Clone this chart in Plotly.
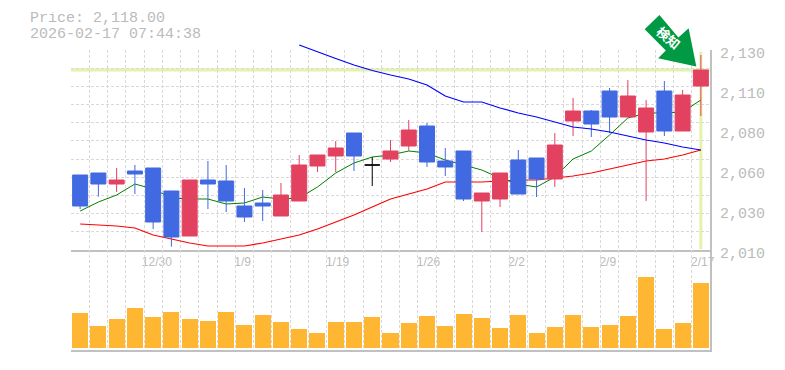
import plotly.graph_objects as go

# --- data ---
idx = list(range(35))
opens = [2055, 2056.2, 2049.6, 2057.4, 2059.2, 2045.4, 2018.4, 2052, 2051.4, 2036.4, 2038.2, 2030.4,
         2039.4, 2060.4, 2066.4, 2080.2, 2061, 2064.6, 2072.4, 2084.4, 2063.4, 2069.4, 2039.4, 2040.6,
         2064, 2065.2, 2052.6, 2087.4, 2093.4, 2105.4, 2089.8, 2080.8, 2105.4, 2081.4, 2108.4]
closes = [2036.4, 2049.6, 2052, 2055.6, 2026.8, 2017.8, 2052, 2049.6, 2039.4, 2029.8, 2036.4, 2043,
          2061, 2067, 2071.2, 2066.4, 2061, 2069.4, 2082, 2062.8, 2059.8, 2040.6, 2044.2, 2056.2,
          2043.6, 2052.6, 2073, 2093.4, 2085.6, 2089.8, 2102.4, 2095.2, 2081.4, 2103, 2118]
highs = [2055, 2056.2, 2059.2, 2061, 2059.2, 2045.4, 2052, 2063.4, 2061, 2047.2, 2046, 2050.2,
         2067, 2067, 2075.4, 2080.2, 2065.8, 2076, 2088, 2086.2, 2071.2, 2069.4, 2044.2, 2056.2,
         2070, 2065.2, 2080.2, 2101.2, 2094, 2107.2, 2112, 2100, 2111.4, 2106, 2127]
lows = [2034.6, 2042, 2044.8, 2043.6, 2022.6, 2012, 2018.4, 2034.6, 2032.8, 2026.8, 2027.4, 2030.4,
        2039.4, 2056.8, 2056.8, 2057.4, 2048.4, 2062.8, 2069.4, 2059.8, 2054.4, 2039.4, 2020.8, 2035.8,
        2043.6, 2041.8, 2047.8, 2078.4, 2077.8, 2080.2, 2089.8, 2039.4, 2078.4, 2081.4, 2090.4]
ma_short = [2033.4, 2038.8, 2043, 2049.6, 2046.6, 2041.2, 2040.6, 2040.6, 2037.6, 2038.2, 2041.8, 2040.6,
            2041.2, 2047.8, 2056.2, 2062.2, 2065.8, 2067, 2069.4, 2068.2, 2064, 2061, 2058, 2053.2,
            2049.6, 2047.8, 2053.8, 2064.6, 2069.4, 2079, 2089.2, 2092.2, 2092.2, 2092.8, 2100]
ma_mid = [2025.6, 2025, 2024.4, 2023.2, 2019, 2016.6, 2014.2, 2012.4, 2012.4, 2012.4, 2014.2, 2016.6,
          2019, 2022.6, 2026.8, 2031, 2035.8, 2040.6, 2043.6, 2046.6, 2050.8, 2050.8, 2050.8, 2051.4,
          2052, 2052, 2053.2, 2054.4, 2056.2, 2058.6, 2061, 2063.4, 2064.6, 2067, 2070]
ma_long = [None] * 12 + [2133, 2128.8, 2124.9, 2121, 2117.7, 2115, 2112.6, 2109, 2102.4, 2098.8, 2098.8,
                         2095.2, 2092.2, 2089.8, 2086.8, 2083.8, 2082.6, 2080.8, 2078.4, 2076, 2074.2, 2071.8, 2070]
volume = [35, 22, 29, 40, 31, 36, 29, 27, 36, 23, 33, 26, 19, 15, 26, 26, 31, 15,
          25, 32, 22, 34, 30, 20, 33, 15, 21, 33, 21, 23, 32, 71, 19, 25, 65]
date_labels = ["12/30", "1/9", "1/19", "1/26", "2/2", "2/9", "2/17"]
date_ticks = [4.2, 8.9, 14.1, 19.08, 23.9, 28.9, 34.1]
price_ticks = [2010, 2034, 2058, 2082, 2106, 2130]
price_labels = ["2,010", "2,030", "2,060", "2,080", "2,110", "2,130"]
last_price = 2118
header = ["Price: 2,118.00", "2026-02-17 07:44:38"]
badge_text = "検知"
# badge arrow, in chart units (candle index, price)
arrow_x = [31.73, 30.92, 32.08, 31.66, 33.75, 33.33, 32.77, 31.73]
arrow_y = [2151, 2142.4, 2129.7, 2125, 2120.1, 2143, 2137.5, 2151]

# --- style ---
GRID = "#D9D9D9"
AXIS = "#C0C0C0"
TXT = "#BBBBBB"
BLUE = "#4169E1"
RED = "#E24260"
HL = "#E3F4A9"
MONO = "Liberation Mono"
W, H = 785, 370
L, R, T, B = 71, 709.6, 0, 350
PR = [2010, 2130]
PR_TALL = [2010, 2160]
XR = [-0.5, 34.5]


def px(x):
    return (x - L) / (R - L)


def py(y):
    return (B - y) / (B - T)


dash = "3px,2px"
fig = go.Figure()
fig.add_trace(go.Scatter(x=idx, y=ma_mid, mode="lines", line=dict(color="#FF0000", width=1.2), hoverinfo="skip"))
fig.add_trace(go.Scatter(x=idx, y=ma_short, mode="lines", line=dict(color="#008000", width=1), hoverinfo="skip"))

doji = [i for i in idx if opens[i] == closes[i]]
rest = [i for i in idx if opens[i] != closes[i]]
fig.add_trace(go.Candlestick(
    x=rest, open=[opens[i] for i in rest], high=[highs[i] for i in rest],
    low=[lows[i] for i in rest], close=[closes[i] for i in rest],
    increasing=dict(line=dict(color=RED, width=1), fillcolor=RED),
    decreasing=dict(line=dict(color=BLUE, width=1), fillcolor=BLUE),
    whiskerwidth=0, xaxis="x3", yaxis="y3", hoverinfo="skip"))
fig.add_trace(go.Candlestick(
    x=doji, open=[opens[i] for i in doji], high=[highs[i] for i in doji],
    low=[lows[i] for i in doji], close=[closes[i] for i in doji],
    increasing=dict(line=dict(color="#000000", width=1), fillcolor="#000000"),
    decreasing=dict(line=dict(color="#000000", width=1), fillcolor="#000000"),
    whiskerwidth=0, xaxis="x3", yaxis="y3", hoverinfo="skip"))
fig.add_trace(go.Scatter(x=idx, y=ma_long, mode="lines", line=dict(color="#0000FF", width=1.2),
                         xaxis="x4", yaxis="y4", hoverinfo="skip"))
fig.add_trace(go.Scatter(x=arrow_x, y=arrow_y, mode="lines", fill="toself", fillcolor="#009944",
                         line=dict(color="#009944", width=0), xaxis="x4", yaxis="y4", hoverinfo="skip"))
fig.add_trace(go.Bar(x=idx, y=volume, width=0.877, marker=dict(color="#FFB733", line=dict(width=0)),
                     xaxis="x2", yaxis="y2", hoverinfo="skip"))

minor_x = dict(tickmode="linear", tick0=-0.5, dtick=1, showgrid=True, gridcolor=GRID, griddash=dash, gridwidth=1, ticklen=0)
minor_y = dict(tickmode="linear", tick0=2010, dtick=120 / 11, showgrid=True, gridcolor=GRID, griddash=dash, gridwidth=1, ticklen=0)

annotations = [
    dict(xref="paper", yref="paper", x=px(28), y=py(19), text=header[0], xanchor="left", yanchor="middle",
         height=13, showarrow=False, font=dict(family=MONO, size=15, color=TXT)),
    dict(xref="paper", yref="paper", x=px(28), y=py(34), text=header[1], xanchor="left", yanchor="middle",
         height=13, showarrow=False, font=dict(family=MONO, size=15, color=TXT)),
    dict(xref="x4", yref="y4", x=32.25, y=2137.8, text=badge_text, textangle=40, showarrow=False,
         xanchor="center", yanchor="middle",
         font=dict(family="Noto Sans CJK JP", size=13, color="#FFFFFF", weight="bold")),
]
shapes = [
    dict(type="line", xref="x", yref="y", x0=XR[0], x1=XR[1], y0=last_price, y1=last_price,
         line=dict(color=HL, width=3), layer="below"),
    dict(type="line", xref="x", yref="y", x0=34, x1=34, y0=2010.6, y1=2129, line=dict(color=HL, width=3), layer="below"),
]

fig.update_layout(
    width=W, height=H, margin=dict(l=L, r=W - R, t=T, b=H - B, autoexpand=False),
    paper_bgcolor="white", plot_bgcolor="rgba(0,0,0,0)", showlegend=False,
    boxgap=0.18, boxgroupgap=0, boxmode="overlay", bargap=0,
    annotations=annotations, shapes=shapes,
    xaxis=dict(domain=[0, 1], range=XR, anchor="y", tickmode="array", tickvals=date_ticks, ticktext=date_labels,
               showgrid=False, zeroline=False, showline=True, linecolor=AXIS, linewidth=2, ticks="",
               tickfont=dict(family="Liberation Sans", size=12, color=TXT), minor=minor_x),
    yaxis=dict(domain=[100 / 350, 300 / 350], range=PR, anchor="x", side="right", tickmode="array", tickvals=price_ticks,
               ticktext=price_labels, showgrid=False, zeroline=False, showline=True, linecolor=AXIS, linewidth=2,
               ticks="", tickfont=dict(family=MONO, size=15, color=TXT), ticklabelstandoff=5, ticklabelshift=3,
               minor=minor_y),
    xaxis2=dict(domain=[0, 1], range=XR, anchor="y2", showticklabels=False, showgrid=False, zeroline=False,
                showline=True, linecolor=AXIS, linewidth=2, ticks="", minor=minor_x),
    yaxis2=dict(domain=[0, 100 / 350], range=[-2, 98], anchor="x2", side="right", showticklabels=False, showgrid=False,
                zeroline=False, showline=True, linecolor=AXIS, linewidth=2, ticks=""),
    xaxis3=dict(range=XR, overlaying="x", anchor="y3", visible=False, rangeslider=dict(visible=False)),
    yaxis3=dict(range=PR, overlaying="y", anchor="x3", side="right", visible=False),
    xaxis4=dict(domain=[0, 1], range=XR, anchor="y4", visible=False),
    yaxis4=dict(domain=[100 / 350, 1], range=PR_TALL, anchor="x4", visible=False),
)

fig.write_html("out.html", config=dict(displayModeBar=False), post_script="document.body.style.margin='0';")
